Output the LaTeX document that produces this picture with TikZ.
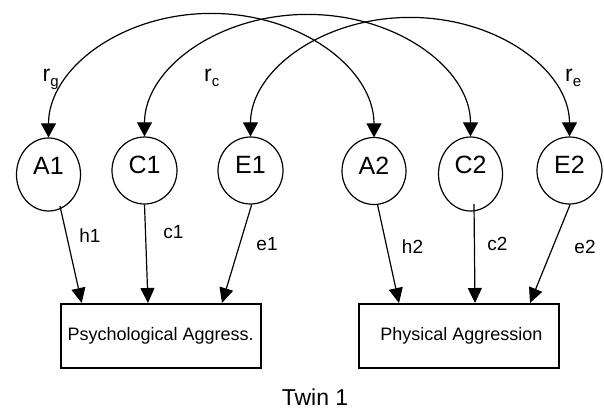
\documentclass[tikz,border=0pt]{standalone}
\usepackage{fontspec}
\setmainfont{Liberation Sans}
\usetikzlibrary{arrows.meta,shapes.geometric,calc}
\begin{document}
\begin{tikzpicture}[x=1pt,y=1pt,
  lat/.style={ellipse,draw,line width=1.2pt,inner sep=0pt},
  ltxt/.style={font=\fontsize{25}{28}\selectfont,inner sep=0pt},
  obs/.style={rectangle,draw,line width=2pt,minimum width=200pt,minimum height=64pt,inner sep=0pt,font=\fontsize{18}{20}\selectfont},
  conn/.style={line width=1.2pt},
  tip/.style={-{Triangle[length=15pt,width=14pt]}},
  dtip/.style={{Triangle[length=14pt,width=15pt]}-{Triangle[length=14pt,width=15pt]}},
  lbl/.style={font=\fontsize{19}{20}\selectfont,inner sep=0pt},
  rlbl/.style={font=\fontsize{23}{26}\selectfont,inner sep=0pt,anchor=base west}
]
\fill[white] (0,0) rectangle (604,410);
\useasboundingbox (0,0) rectangle (604,410);

% latent variables
\node[lat,minimum width=64pt,minimum height=73pt,label={[ltxt,yshift=9pt]center:A1}] (A1) at (48.5,235.5) {};
\node[lat,minimum width=65pt,minimum height=67pt,label={[ltxt,yshift=5.5pt]center:C1}] (C1) at (144.5,239.5) {};
\node[lat,minimum width=65pt,minimum height=67pt,label={[ltxt,yshift=5.5pt]center:E1}] (E1) at (250.5,239.5) {};
\node[lat,minimum width=64pt,minimum height=67pt,label={[ltxt,yshift=5.5pt]center:A2}] (A2) at (374,239) {};
\node[lat,minimum width=64pt,minimum height=74pt,label={[ltxt,yshift=9pt]center:C2}] (C2) at (470.5,236) {};
\node[lat,minimum width=65pt,minimum height=67pt,label={[ltxt,yshift=5.5pt]center:E2}] (E2) at (569.5,239.5) {};

% observed variables
\node[obs] (P) at (160.7,74) {Psychological Aggress.};
\node[obs] (Ph) at (459,74) {\hspace{5pt}Physical Aggression};

% correlations
\draw[conn,dtip] (A1.north) arc[start angle=180,end angle=0,x radius=162.75,y radius=124];
\draw[conn,dtip] (C1.north) arc[start angle=180,end angle=0,x radius=163,y radius=122];
\draw[conn,dtip] (E1.north) arc[start angle=180,end angle=0,x radius=159.5,y radius=119];

\node[rlbl] (rg) at (42.5,328) {r\raisebox{-5pt}{\fontsize{15}{15}\selectfont g}};
\node[rlbl] (rc) at (204,328) {r\raisebox{-5pt}{\fontsize{15}{15}\selectfont c}};
\node[rlbl] (re) at (565,328) {r\raisebox{-5pt}{\fontsize{15}{15}\selectfont e}};

% paths
\draw[conn,tip] ($(A1.center)+(11.5,-31.5)$) -- ($(P.north west)+(22,0)$);
\draw[conn,tip] (C1.south) -- ($(P.north west)+(88.3,0)$);
\draw[conn,tip] (E1.-88) -- ($(P.north west)+(162.3,0)$);
\draw[conn,tip] (A2.-84) -- ($(Ph.north west)+(41,0)$);
\draw[conn,tip] ($(C2.center)+(3.5,-30)$) -- ($(Ph.north west)+(117,0)$);
\draw[conn,tip] (E2.-89) -- ($(Ph.north west)+(172,0)$);

\node[lbl] (lh1) at (90,174) {h1};
\node[lbl] (lc1) at (173.5,178) {c1};
\node[lbl] (le1) at (267,166) {e1};
\node[lbl] (lh2) at (412.5,163) {h2};
\node[lbl] (lc2) at (497.5,166) {c2};
\node[lbl] (le2) at (585,163.5) {e2};

\node[font=\fontsize{23}{26}\selectfont,inner sep=0pt] (twin) at (315,12.5) {Twin 1};
\end{tikzpicture}
\end{document}
